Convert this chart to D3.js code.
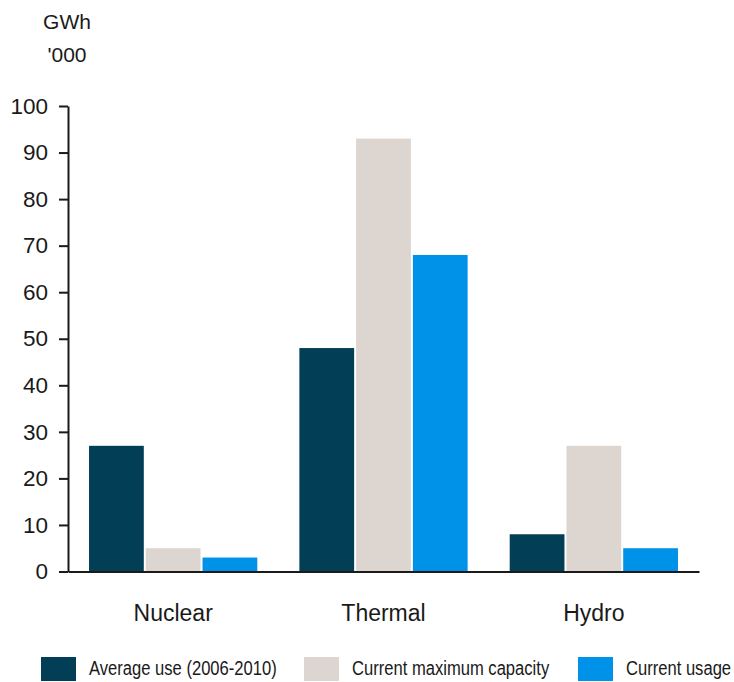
<!DOCTYPE html>
<html>
<head>
<meta charset="utf-8">
<script src="https://cdn.jsdelivr.net/npm/d3@7"></script>
<style>
  html, body { margin: 0; padding: 0; background: #fff; }
  svg { display: block; font-family: "Liberation Sans", Arial, sans-serif; }
</style>
</head>
<body>
<svg id="chart" width="734" height="682"></svg>
<script>
// Electricity generation by source, GWh '000
const categories = ["Nuclear", "Thermal", "Hydro"];
const seriesNames = ["Average use (2006-2010)", "Current maximum capacity", "Current usage"];
const averageUse = [27, 48, 8];
const maxCapacity = [5, 93, 27];
const currentUsage = [3, 68, 5];
const yTicks = [0, 10, 20, 30, 40, 50, 60, 70, 80, 90, 100];
const unitLines = ["GWh", "'000"];

const colors = ["#023e56", "#ddd5cf", "#0091e8"];
const seriesValues = [averageUse, maxCapacity, currentUsage];
const ink = "#1a1a1a";
const fontStack = "'Liberation Sans', Arial, sans-serif";

const svg = d3.select("#chart");
const plotLeft = 68, plotRight = 699, plotTop = 106, plotBottom = 571.5;

const x0 = d3.scaleBand().domain(categories).range([plotLeft, plotRight])
  .paddingInner(0.2).paddingOuter(0.1);
const x1 = d3.scaleBand().domain(d3.range(seriesNames.length))
  .range([0, x0.bandwidth()]).paddingInner(0.035);
const y = d3.scaleLinear().domain([0, 100]).range([plotBottom, plotTop]);

// bars
const groups = svg.append("g").selectAll("g")
  .data(categories).join("g")
  .attr("transform", d => `translate(${x0(d)},0)`);
groups.selectAll("rect")
  .data((c, i) => seriesValues.map((vals, s) => ({ s, v: vals[i] })))
  .join("rect")
  .attr("x", d => x1(d.s))
  .attr("width", x1.bandwidth())
  .attr("y", d => y(d.v))
  .attr("height", d => y(0) - y(d.v))
  .attr("fill", d => colors[d.s]);

// y axis
const yAxis = svg.append("g")
  .attr("transform", `translate(${plotLeft},0)`)
  .call(d3.axisLeft(y).tickValues(yTicks).tickSize(9).tickPadding(11).tickSizeOuter(0));
yAxis.select(".domain").attr("stroke", ink).attr("stroke-width", 2);
yAxis.selectAll(".tick line").attr("stroke", ink).attr("stroke-width", 2);
yAxis.selectAll(".tick text")
  .attr("fill", ink).style("font-size", "22.5px")
  .attr("font-family", fontStack);

// x axis
const xAxis = svg.append("g")
  .attr("transform", `translate(0,${plotBottom})`)
  .call(d3.axisBottom(x0).tickSize(0).tickPadding(33).tickSizeOuter(0));
xAxis.select(".domain").attr("stroke", ink).attr("stroke-width", 2.2);
xAxis.selectAll(".tick text")
  .attr("fill", ink).style("font-size", "23px")
  .attr("font-family", fontStack);

// unit label
svg.append("g").selectAll("text")
  .data(unitLines).join("text")
  .attr("x", 67)
  .attr("y", (d, i) => 29 + i * 33)
  .attr("text-anchor", "middle")
  .attr("fill", ink)
  .style("font-size", "21px")
  .text(d => d);

// legend
const legendX = [41, 304, 578];
const legend = svg.append("g").selectAll("g")
  .data(seriesNames).join("g")
  .attr("transform", (d, i) => `translate(${legendX[i]},657)`);
legend.append("rect")
  .attr("width", 35).attr("height", 24)
  .attr("fill", (d, i) => colors[i]);
legend.append("text")
  .attr("transform", "translate(48,17.5) scale(0.83,1.05)")
  .attr("fill", ink)
  .style("font-size", "20px")
  .text(d => d);
</script>
</body>
</html>
